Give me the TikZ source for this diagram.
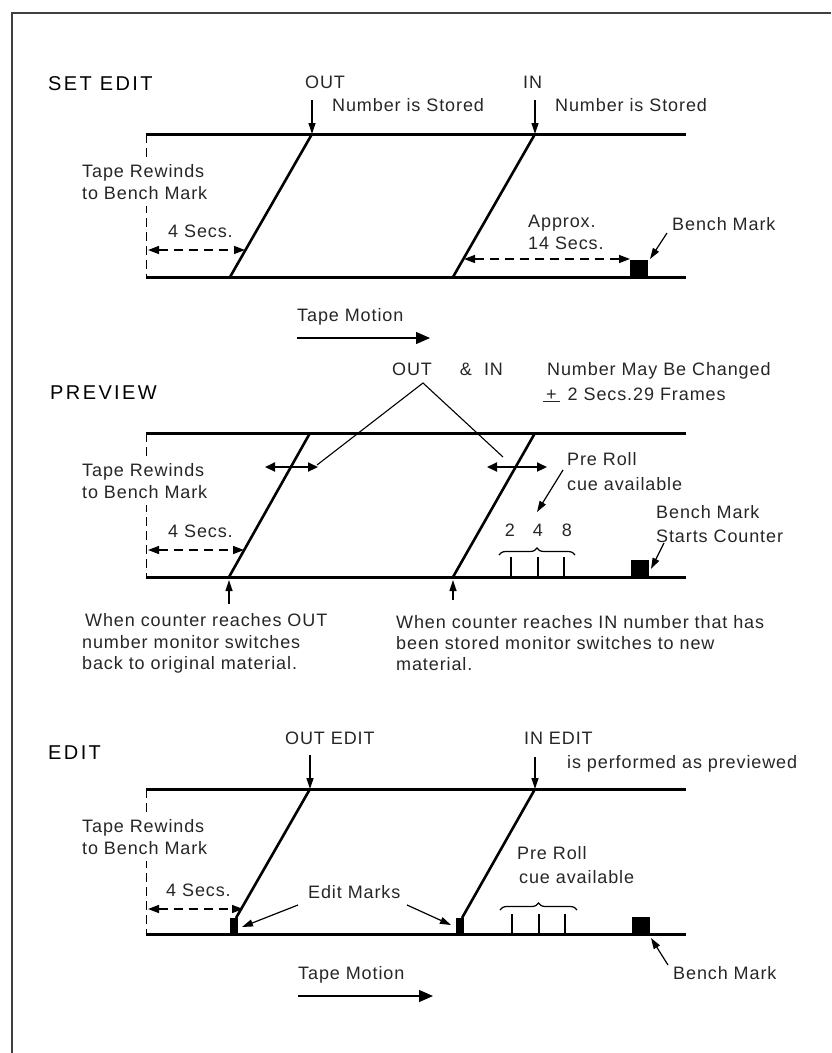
\documentclass[tikz,border=0pt]{standalone}
\usepackage{fontspec}
\setmainfont{Liberation Sans}[LetterSpace=5]
\newfontfamily\titlefont{Liberation Sans}[LetterSpace=12]
\usetikzlibrary{arrows.meta,decorations.pathreplacing}
\tikzset{
  tape/.style={line width=3pt},
  slant/.style={line width=2.6pt},
  framel/.style={line width=2pt, black!75},
  lbl/.style={inner sep=0pt, anchor=west, text height=12pt, text depth=0pt, text=black!85, font=\fontsize{18}{21}\selectfont},
  clbl/.style={lbl, anchor=center},
  ttl/.style={inner sep=0pt, anchor=west, text height=14pt, text depth=0pt, font=\titlefont\fontsize{20}{24}\selectfont},
  wlbl/.style={lbl, fill=white, inner xsep=0pt, inner ysep=3pt, text depth=4pt},
  guide/.style={line width=1pt, dash pattern=on 9pt off 5pt},
  dimarr/.style={line width=1.4pt, dash pattern=on 9pt off 6pt, {Triangle[length=11pt,width=8pt]}-{Triangle[length=11pt,width=8pt]}},
  ptr/.style={line width=1.2pt, -{Triangle[length=11pt,width=7pt]}},
  motion/.style={line width=1.2pt, -{Triangle[length=14pt,width=12pt]}},
  dbl/.style={line width=2.2pt, {Triangle[length=10pt,width=9pt]}-{Triangle[length=10pt,width=9pt]}},
  vline/.style={line width=1.1pt},
  tick/.style={line width=1.6pt},
  benchbox/.style={fill=black, draw=none, inner sep=0pt, minimum width=18pt, minimum height=17pt, anchor=south west},
  editbox/.style={fill=black, draw=none, inner sep=0pt, minimum width=8pt, minimum height=16pt, anchor=south east},
  cbrace/.style={line width=1.2pt, decorate, decoration={brace, amplitude=7pt}},
}
\begin{document}
\begin{tikzpicture}[x=1pt,y=-1pt]
\useasboundingbox (0,0) rectangle (831,1053);
% frame
\coordinate (f0) at (12,13); \coordinate (f1) at (831,13); \coordinate (f2) at (12,1053);
\draw[framel] (f1) -- (f0) -- (f2);

%================ SET EDIT =================
\node[ttl] (t1) at (48,83) {SET EDIT};
\coordinate (a1) at (146,134); \coordinate (a2) at (686,134);
\coordinate (a3) at (146,277); \coordinate (a4) at (686,277);
\draw[guide] (a1) -- (a3);
\node[wlbl] (a5) at (82,173) {Tape Rewinds};
\node[wlbl] (a6) at (82,195) {to Bench Mark};
\draw[tape] (a1) -- (a2);
\draw[tape] (a3) -- (a4);
\coordinate (ao) at (312,134); \coordinate (aob) at (230,277);
\coordinate (ai) at (535,134); \coordinate (aib) at (453,277);
\draw[slant] (ao) -- (aob);
\draw[slant] (ai) -- (aib);
\node[lbl] (aoutt) at (305,82) {OUT};
\coordinate (aoa) at (312,100);
\draw[ptr] (aoa) -- (ao);
\node[lbl] (an1) at (332,105) {Number is Stored};
\node[lbl] (aint) at (523,82) {IN};
\coordinate (aia) at (535,100);
\draw[ptr] (aia) -- (ai);
\node[lbl] (an2) at (555,105) {Number is Stored};
\node[lbl] (a4s) at (168,231) {4 Secs.};
\coordinate (ad1) at (148,250); \coordinate (ad2) at (245,250);
\draw[dimarr] (ad1) -- (ad2);
\node[lbl] (aap) at (528,221) {Approx.};
\node[lbl] (a14) at (528,243) {14 Secs.};
\node[benchbox] (abm) at (630,277) {};
\coordinate (ad3) at (464,259); \coordinate (ad4) at (630,259);
\draw[dimarr] (ad3) -- (ad4);
\node[lbl] (abmt) at (672,224) {Bench Mark};
\coordinate (ab1) at (667,233); \coordinate (ab2) at (650,259);
\draw[ptr] (ab1) -- (ab2);
\node[lbl] (atm) at (297,315) {Tape Motion};
\coordinate (am1) at (297,338); \coordinate (am2) at (430,338);
\draw[motion] (am1) -- (am2);

%================ PREVIEW =================
\node[ttl] (t2) at (50,392) {PREVIEW};
\coordinate (b1) at (146,433); \coordinate (b2) at (686,433);
\coordinate (b3) at (146,577); \coordinate (b4) at (686,577);
\draw[guide] (b1) -- (b3);
\node[wlbl] (b5) at (82,472) {Tape Rewinds};
\node[wlbl] (b6) at (82,494) {to Bench Mark};
\draw[tape] (b1) -- (b2);
\draw[tape] (b3) -- (b4);
\coordinate (bo) at (310,433); \coordinate (bob) at (229,577);
\coordinate (bi) at (535,433); \coordinate (bib) at (453,577);
\draw[slant] (bo) -- (bob);
\draw[slant] (bi) -- (bib);
\node[lbl] (boi) at (392,369) {OUT\hspace{28pt}\&\hspace{12pt}IN};
\coordinate (bap) at (423,383); \coordinate (bvl) at (317,465); \coordinate (bvr) at (503,457);
\draw[vline] (bvl) -- (bap) -- (bvr);
\coordinate (bd1) at (265,467); \coordinate (bd2) at (318,467);
\draw[dbl] (bd1) -- (bd2);
\coordinate (bd3) at (487,467); \coordinate (bd4) at (547,467);
\draw[dbl] (bd3) -- (bd4);
\node[lbl] (bnc) at (547,369) {Number May Be Changed};
\node[lbl] (bpm) at (543,394) {\underline{\,+\,}\hspace{8pt}2 Secs.\hspace{1pt}29 Frames};
\node[lbl] (b4s) at (168,531) {4 Secs.};
\coordinate (bd5) at (148,550); \coordinate (bd6) at (244,550);
\draw[dimarr] (bd5) -- (bd6);
\node[lbl] (bpr) at (567,459) {Pre Roll};
\node[lbl] (bcue) at (567,484) {cue available};
\coordinate (bpa1) at (563,470); \coordinate (bpa2) at (537,512);
\draw[ptr] (bpa1) -- (bpa2);
\node[clbl] (bn2) at (510,530) {2};
\node[clbl] (bn4) at (538,530) {4};
\node[clbl] (bn8) at (567,530) {8};
\coordinate (bbr1) at (499,555); \coordinate (bbr2) at (575,555);
\draw[cbrace] (bbr1) -- (bbr2);
\coordinate (bt1) at (511,557); \coordinate (bt1b) at (511,577);
\coordinate (bt2) at (538,557); \coordinate (bt2b) at (538,577);
\coordinate (bt3) at (564,557); \coordinate (bt3b) at (564,577);
\draw[tick] (bt1) -- (bt1b); \draw[tick] (bt2) -- (bt2b); \draw[tick] (bt3) -- (bt3b);
\node[benchbox] (bbm) at (631,577) {};
\node[lbl] (bbmt) at (656,512) {Bench Mark};
\node[lbl] (bsc) at (656,536) {Starts Counter};
\coordinate (bba1) at (664,543); \coordinate (bba2) at (651,569);
\draw[ptr] (bba1) -- (bba2);
\coordinate (bu1) at (229,604); \coordinate (bu1t) at (229,580);
\draw[ptr] (bu1) -- (bu1t);
\coordinate (bu2) at (453,600); \coordinate (bu2t) at (453,580);
\draw[ptr] (bu2) -- (bu2t);
\node[lbl] (bw1) at (85,620) {When counter reaches OUT};
\node[lbl] (bw2) at (82,642) {number monitor switches};
\node[lbl] (bw3) at (82,663) {back to original material.};
\node[lbl] (bw4) at (396,622) {When counter reaches IN number that has};
\node[lbl] (bw5) at (396,643) {been stored monitor switches to new};
\node[lbl] (bw6) at (396,664) {material.};

%================ EDIT =================
\node[ttl] (t3) at (48,752) {EDIT};
\coordinate (c1) at (146,789); \coordinate (c2) at (686,789);
\coordinate (c3) at (146,934); \coordinate (c4) at (686,934);
\draw[guide] (c1) -- (c3);
\node[wlbl] (c5) at (82,828) {Tape Rewinds};
\node[wlbl] (c6) at (82,850) {to Bench Mark};
\draw[tape] (c1) -- (c2);
\draw[tape] (c3) -- (c4);
\node[editbox] (cem1) at (238,934) {};
\node[editbox] (cem2) at (464,934) {};
\coordinate (co) at (310,789); \coordinate (cob) at (236,918);
\coordinate (ci) at (535,789); \coordinate (cib) at (462,918);
\draw[slant] (co) -- (cob);
\draw[slant] (ci) -- (cib);
\node[lbl] (coutt) at (285,738) {OUT EDIT};
\coordinate (coa) at (310,755);
\draw[ptr] (coa) -- (co);
\node[lbl] (cint) at (524,738) {IN EDIT};
\coordinate (cia) at (535,757);
\draw[ptr] (cia) -- (ci);
\node[lbl] (cperf) at (567,762) {is performed as previewed};
\node[lbl] (c4s) at (166,890) {4 Secs.};
\coordinate (cd1) at (148,909); \coordinate (cd2) at (243,909);
\draw[dimarr] (cd1) -- (cd2);
\node[lbl] (cem) at (308,892) {Edit Marks};
\coordinate (cea1) at (298,905); \coordinate (cea2) at (242,927);
\draw[ptr] (cea1) -- (cea2);
\coordinate (cea3) at (407,905); \coordinate (cea4) at (451,925);
\draw[ptr] (cea3) -- (cea4);
\node[lbl] (cpr) at (517,853) {Pre Roll};
\node[lbl] (ccue) at (519,877) {cue available};
\coordinate (cbr1) at (500,910); \coordinate (cbr2) at (577,910);
\draw[cbrace] (cbr1) -- (cbr2);
\coordinate (ct1) at (512,914); \coordinate (ct1b) at (512,934);
\coordinate (ct2) at (539,914); \coordinate (ct2b) at (539,934);
\coordinate (ct3) at (565,914); \coordinate (ct3b) at (565,934);
\draw[tick] (ct1) -- (ct1b); \draw[tick] (ct2) -- (ct2b); \draw[tick] (ct3) -- (ct3b);
\node[benchbox] (cbm) at (632,934) {};
\node[lbl] (cbmt) at (673,973) {Bench Mark};
\coordinate (cba1) at (668,965); \coordinate (cba2) at (651,938);
\draw[ptr] (cba1) -- (cba2);
\node[lbl] (ctm) at (298,973) {Tape Motion};
\coordinate (cm1) at (298,996); \coordinate (cm2) at (433,996);
\draw[motion] (cm1) -- (cm2);
\end{tikzpicture}
\end{document}
